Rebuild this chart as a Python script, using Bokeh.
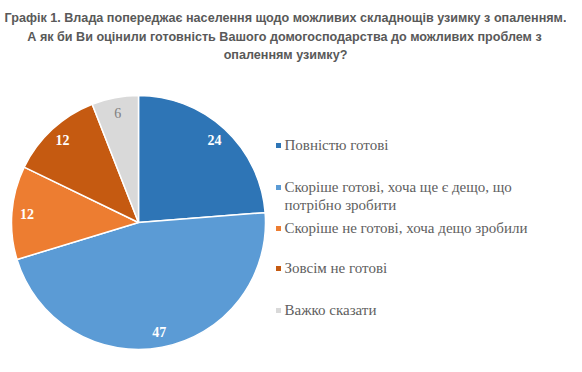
import math
from bokeh.plotting import figure
from bokeh.models import Range1d, ColumnDataSource, Label
from bokeh.core.properties import value
from bokeh.embed import file_html
from bokeh.resources import INLINE

title_lines = [
    "Графік 1. Влада попереджає населення щодо можливих складнощів узимку з опаленням.",
    "А як би Ви оцінили готовність Вашого домогосподарства до можливих проблем з",
    "опаленням узимку?",
]
categories = [
    "Повністю готові",
    "Скоріше готові, хоча ще є дещо, що\nпотрібно зробити",
    "Скоріше не готові, хоча дещо зробили",
    "Зовсім не готові",
    "Важко сказати",
]
values = [24, 47, 12, 12, 6]
colors = ["#2E75B6", "#5B9BD5", "#ED7D31", "#C55A11", "#D9D9D9"]
label_colors = ["white", "white", "white", "white", "#7F7F7F"]
label_styles = ["bold", "bold", "bold", "bold", "normal"]

W, H = 566, 356
p = figure(width=W, height=H, output_backend="svg", toolbar_location=None,
           x_range=Range1d(0, W), y_range=Range1d(0, H),
           min_border=0)
p.axis.visible = False
p.grid.visible = False
p.outline_line_color = None
p.background_fill_color = "white"

def Y(img_y):
    return H - img_y

cx, cy, R = 138, Y(222), 127
total = sum(values)
starts, ends, lx, ly = [], [], [], []
acc = 0
for v in values:
    a0 = math.pi / 2 - 2 * math.pi * acc / total
    a1 = math.pi / 2 - 2 * math.pi * (acc + v) / total
    starts.append(a0)
    ends.append(a1)
    mid = (a0 + a1) / 2
    lx.append(cx + 0.88 * R * math.cos(mid))
    ly.append(cy + 0.88 * R * math.sin(mid))
    acc += v

src = ColumnDataSource(dict(start=starts, end=ends, color=colors,
                            lx=lx, ly=ly, txt=[str(v) for v in values],
                            tc=label_colors, ts=label_styles))
p.wedge(x=cx, y=cy, radius=R, start_angle="start", end_angle="end",
        direction="clock", fill_color="color", line_color="white",
        line_width=1.5, source=src)
p.text(x="lx", y="ly", text="txt", text_color="tc", text_font_style="ts",
       text_font=value("Liberation Serif"), text_font_size="14px",
       text_align="center", text_baseline="middle", source=src)

# legend
leg_y = [145, 187, 228, 268, 310]
sq_x = [278] * 5
tx = [284] * 5
lsrc = ColumnDataSource(dict(x=sq_x, y=[Y(v) for v in leg_y], tx=tx,
                             ty=[Y(v) for v in leg_y], c=colors, t=categories))
p.rect(x="x", y="y", width=5, height=5, fill_color="c", line_color=None, source=lsrc)
p.text(x="tx", y="ty", text="t", text_color="#606060",
       text_font=value("Liberation Serif"), text_font_size="15px",
       text_align="left", text_baseline="top", text_line_height=1.1,
       y_offset=-8.5, source=lsrc)

# title
t_x = [285, 284, 285]
t_y = [17, 36, 54]
for s, x, y in zip(title_lines, t_x, t_y):
    p.add_layout(Label(x=x, y=Y(y), text=s, text_align="center",
                       text_baseline="middle", text_color="#595959",
                       text_font="Liberation Sans", text_font_style="bold",
                       text_font_size="12.6px"))

open("out.html", "w").write(file_html(p, INLINE))
